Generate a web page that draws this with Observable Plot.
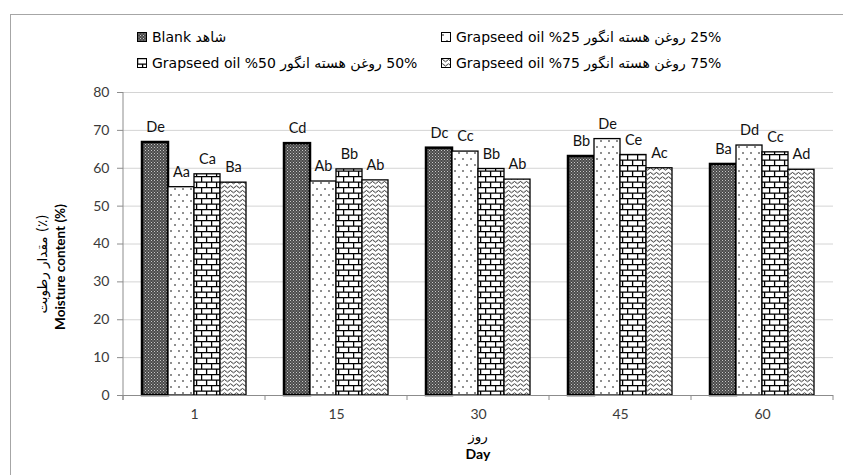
<!DOCTYPE html>
<html><head><meta charset="utf-8">
<script src="https://cdn.jsdelivr.net/npm/d3@7"></script>
<script src="https://cdn.jsdelivr.net/npm/@observablehq/plot@0.6"></script>
<style>
body{margin:0;background:#fff}
#wrap{position:relative;width:843px;height:475px;overflow:hidden;background:#fff}
#frame{position:absolute;left:10px;top:14px;width:900px;height:600px;border:1.5px solid #a6a6a6;box-sizing:border-box}
#chart{position:absolute;left:0;top:0}
.leg{position:absolute;font-family:"DejaVu Sans";font-size:14px;color:#000;white-space:nowrap;line-height:14px;height:14px;display:flex;align-items:center}
.leg svg{margin-right:5px;flex:none}
</style></head>
<body>
<svg width="0" height="0" style="position:absolute">
<defs>
<pattern id="pBlank" patternUnits="userSpaceOnUse" width="3" height="3">
<rect width="3" height="3" fill="#4a4a4a"/><rect x="0" y="0" width="1" height="1" fill="#c8c8c8"/><rect x="1.5" y="1.5" width="1" height="1" fill="#a8a8a8"/>
</pattern>
<pattern id="pDots" patternUnits="userSpaceOnUse" width="8" height="12">
<rect width="8" height="12" fill="#fff"/><circle cx="2" cy="3" r="0.8" fill="#000"/><circle cx="6" cy="9" r="0.8" fill="#000"/>
</pattern>
<pattern id="pBrick" patternUnits="userSpaceOnUse" width="10" height="11">
<rect width="10" height="11" fill="#fff"/>
<path d="M0 0.6H10M0 6.1H10M0.6 0V6.1M5.6 6.1V11" stroke="#000" stroke-width="1.3" fill="none"/>
</pattern>
<pattern id="pWave" patternUnits="userSpaceOnUse" width="6" height="4.5">
<rect width="6" height="4.5" fill="#fff"/>
<path d="M0 2.5Q1.5 0.2 3 2.5T6 2.5" stroke="#000" stroke-width="0.9" fill="none"/>
</pattern>
</defs>
</svg>
<div id="wrap"><div id="frame"></div><div id="chart"></div><div id="legend"></div></div>
<script>
const days = ["1", "15", "30", "45", "60"];
const series = ["Blank", "25%", "50%", "75%"];
const blankValues = [66.8, 66.5, 65.3, 63.1, 61.0];
const oil25Values = [55.0, 56.5, 64.4, 67.7, 66.0];
const oil50Values = [58.4, 59.7, 59.8, 63.5, 64.2];
const oil75Values = [56.2, 56.8, 57.0, 60.0, 59.6];
const blankLetters = ["De", "Cd", "Dc", "Bb", "Ba"];
const oil25Letters = ["Aa", "Ab", "Cc", "De", "Dd"];
const oil50Letters = ["Ca", "Bb", "Bb", "Ce", "Cc"];
const oil75Letters = ["Ba", "Ab", "Ab", "Ac", "Ad"];
const yTicks = [0, 10, 20, 30, 40, 50, 60, 70, 80];

const values = [blankValues, oil25Values, oil50Values, oil75Values];
const letters = [blankLetters, oil25Letters, oil50Letters, oil75Letters];
const fills = {"Blank": "url(#pBlank)", "25%": "url(#pDots)", "50%": "url(#pBrick)", "75%": "url(#pWave)"};

const rows = [];
days.forEach((d, i) => series.forEach((s, j) => rows.push({day: d, series: s, value: values[j][i], label: letters[j][i]})));

const plot = Plot.plot({
  width: 843, height: 475,
  marginTop: 92, marginLeft: 122, marginRight: 9, marginBottom: 80,
  style: {fontFamily: "Lato", overflow: "visible", background: "transparent"},
  fx: {domain: days, padding: 0, label: null},
  x: {domain: series, paddingInner: 0, paddingOuter: 0.68, axis: null},
  y: {domain: [0, 80]},
  marks: [
    Plot.gridY(yTicks.slice(1), {stroke: "#d4d4d4", strokeOpacity: 1}),
    Plot.axisY(yTicks, {facetAnchor: "left", tickSize: 6, tickPadding: 8, fontSize: 14, stroke: "#8c8c8c", fill: "#3a3a3a", label: null}),
    ...series.map(s => Plot.barY(rows.filter(r => r.series === s), {
      fx: "day", x: "series", y: "value", fill: fills[s], stroke: "#000",
      strokeWidth: s === "Blank" ? 2.5 : 1.3, inset: 0
    })),
    Plot.text(rows, {fx: "day", x: "series", y: "value", text: "label", dy: -15, fontSize: 14.5, fill: "#111"}),
    Plot.ruleY([0], {stroke: "#8c8c8c"}),
    Plot.axisFx({anchor: "bottom", tickSize: 0, tickPadding: 14, fontSize: 14, fill: "#3a3a3a", label: null})
  ]
});
document.getElementById("chart").appendChild(plot);

const svg = d3.select(plot);
const ys = plot.scale("y"), fxs = plot.scale("fx");
const y0 = ys.apply(0), yTop = ys.apply(80);
const left = fxs.apply(days[0]);
svg.append("line").attr("x1", left).attr("x2", left).attr("y1", yTop).attr("y2", y0 + 5).attr("stroke", "#8c8c8c");
const edges = days.map(d => fxs.apply(d)).concat([fxs.apply(days[days.length - 1]) + fxs.bandwidth]);
edges.forEach(x => svg.append("line").attr("x1", x).attr("x2", x).attr("y1", y0).attr("y2", y0 + 5).attr("stroke", "#8c8c8c"));
const midX = (left + edges[edges.length - 1]) / 2;
svg.append("text").attr("x", midX).attr("y", 437).attr("text-anchor", "middle").attr("dominant-baseline", "middle")
  .attr("font-family", "DejaVu Sans").attr("font-size", 13.5).attr("direction", "rtl").text("روز");
svg.append("text").attr("x", midX).attr("y", 455).attr("text-anchor", "middle").attr("dominant-baseline", "middle")
  .attr("font-family", "Lato").attr("font-weight", "bold").attr("font-size", 14).text("Day");
svg.append("text").attr("transform", "translate(62,267) rotate(-90)").attr("text-anchor", "middle").attr("dominant-baseline", "middle")
  .attr("font-family", "Lato").attr("font-weight", "bold").attr("font-size", 13.5).text("Moisture content (%)");
svg.append("text").attr("transform", "translate(43,264) rotate(-90)").attr("text-anchor", "middle").attr("dominant-baseline", "middle")
  .attr("font-family", "DejaVu Sans").attr("font-size", 13.5).attr("direction", "rtl").text("(٪) مقدار رطوبت");

const legendItems = [
  {s: "Blank", x: 137, y: 30, html: '<span>Blank&nbsp;</span><bdi dir="rtl">شاهد</bdi>'},
  {s: "25%", x: 441, y: 30, html: '<span>Grapseed oil %25&nbsp;</span><bdi dir="rtl">روغن هسته انگور</bdi><span>&nbsp;25%</span>'},
  {s: "50%", x: 137, y: 56, html: '<span>Grapseed oil %50&nbsp;</span><bdi dir="rtl">روغن هسته انگور</bdi><span>&nbsp;50%</span>'},
  {s: "75%", x: 441, y: 56, html: '<span>Grapseed oil %75&nbsp;</span><bdi dir="rtl">روغن هسته انگور</bdi><span>&nbsp;75%</span>'}
];
const leg = document.getElementById("legend");
legendItems.forEach(it => {
  const div = document.createElement("div");
  div.className = "leg";
  div.style.left = it.x + "px"; div.style.top = it.y + "px";
  div.innerHTML = `<svg width="10" height="10"><rect x="0.5" y="0.5" width="9" height="9" fill="${fills[it.s]}" stroke="#000" stroke-width="1"/></svg>` + it.html;
  leg.appendChild(div);
});
</script>
</body></html>
